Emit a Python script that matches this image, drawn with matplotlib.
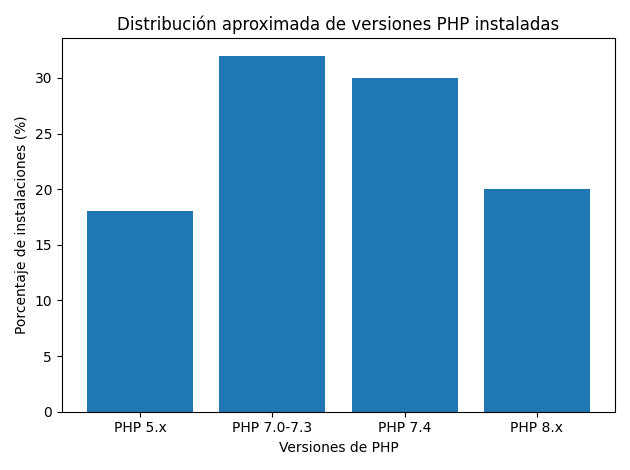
import matplotlib
matplotlib.use("Agg")
import matplotlib.pyplot as plt

categories = ["PHP 5.x", "PHP 7.0-7.3", "PHP 7.4", "PHP 8.x"]
values = [18, 32, 30, 20]

fig, ax = plt.subplots(figsize=(6.3, 4.7), dpi=100)
ax.bar(categories, values)
ax.set_title("Distribución aproximada de versiones PHP instaladas")
ax.set_xlabel("Versiones de PHP")
ax.set_ylabel("Porcentaje de instalaciones (%)")
fig.tight_layout()
fig.savefig("out.png")
